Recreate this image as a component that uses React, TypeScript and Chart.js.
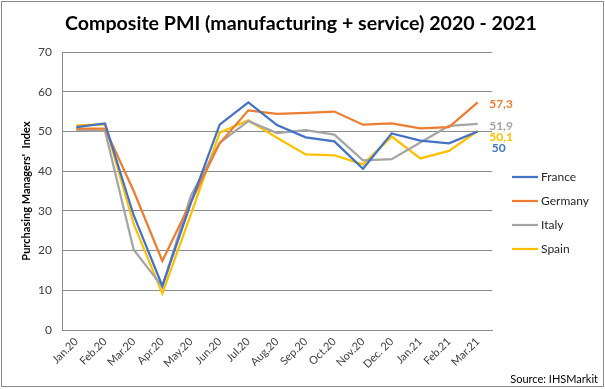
import React, { useEffect, useRef } from "react";
import { Chart, registerables } from "chart.js";

Chart.register(...registerables);

const categories = ["Jan.20", "Feb.20", "Mar.20", "Apr.20", "May.20", "Jun.20", "Jul.20", "Aug.20", "Sep.20", "Oct.20", "Nov.20", "Dec. 20", "Jan.21", "Feb.21", "Mar.21"];
const france = [51.1, 52.0, 28.9, 11.1, 32.1, 51.7, 57.3, 51.6, 48.5, 47.5, 40.6, 49.5, 47.7, 47.0, 50.0];
const germany = [50.7, 50.7, 35.0, 17.4, 32.3, 47.0, 55.3, 54.4, 54.7, 55.0, 51.7, 52.0, 50.8, 51.1, 57.3];
const italy = [50.4, 50.2, 20.2, 10.9, 33.9, 47.1, 52.6, 49.6, 50.3, 49.2, 42.7, 43.0, 47.2, 51.4, 51.9];
const spain = [51.5, 51.8, 26.7, 9.2, 29.2, 49.7, 52.8, 48.4, 44.2, 44.0, 41.7, 48.7, 43.2, 45.1, 50.1];
const seriesNames = ["France", "Germany", "Italy", "Spain"];
const endLabels = ["50", "57,3", "51,9", "50,1"];
const colors = ["#4472C4", "#ED7D31", "#A5A5A5", "#FFC000"];
const titleText = "Composite PMI (manufacturing + service) 2020 - 2021";

const FONT = "Lato, 'Liberation Sans', sans-serif";
const GRID = "#8c8c8c";

const overlay = {
  id: "overlay",
  afterDraw(chart: any) {
    const ctx = chart.ctx;
    const area = chart.chartArea;
    ctx.save();
    // title
    ctx.fillStyle = "#000";
    ctx.font = `bold 19.6px ${FONT}`;
    ctx.textAlign = "center";
    ctx.textBaseline = "alphabetic";
    ctx.fillText(titleText, 301, 30);
    // legend
    chart.data.datasets.forEach((ds: any, i: number) => {
      const y = 177 + i * 24;
      const x0 = area.right + 20;
      ctx.strokeStyle = ds.borderColor;
      ctx.lineWidth = 2.25;
      ctx.beginPath();
      ctx.moveTo(x0, y);
      ctx.lineTo(x0 + 26, y);
      ctx.stroke();
      ctx.fillStyle = "#262626";
      ctx.font = `12px ${FONT}`;
      ctx.textBaseline = "middle";
      ctx.textAlign = "left";
      ctx.fillText(ds.label, x0 + 29, y + 0.5);
    });
    // end labels
    const offsets = [
      [14, 16.5],
      [11.5, 2],
      [11.5, 2],
      [11.5, 6],
    ];
    chart.data.datasets.forEach((ds: any, i: number) => {
      const meta = chart.getDatasetMeta(i);
      const pt = meta.data[meta.data.length - 1];
      ctx.fillStyle = ds.borderColor;
      ctx.font = `bold 12px ${FONT}`;
      ctx.textBaseline = "middle";
      ctx.textAlign = "left";
      ctx.fillText(endLabels[i], pt.x + offsets[i][0], pt.y + offsets[i][1]);
    });
    // source
    ctx.fillStyle = "#000";
    ctx.font = `11px ${FONT}`;
    ctx.textAlign = "right";
    ctx.textBaseline = "middle";
    ctx.fillText("Source: IHSMarkit", 598, 379);
    // border
    ctx.strokeStyle = GRID;
    ctx.lineWidth = 1;
    ctx.strokeRect(1.5, 1.5, 602, 385);
    ctx.restore();
  },
};

export default function App() {
  const ref = useRef<HTMLCanvasElement>(null);
  useEffect(() => {
    document.body.style.margin = "0";
    const data = [france, germany, italy, spain];
    const chart = new Chart(ref.current!, {
      type: "line",
      data: {
        labels: categories,
        datasets: data.map((d, i) => ({
          label: seriesNames[i],
          data: d,
          borderColor: colors[i],
          backgroundColor: colors[i],
          borderWidth: 2.25,
          pointRadius: 0,
          tension: 0,
        })),
      },
      options: {
        responsive: false,
        animation: false,
        layout: { padding: { left: 0, right: 113, top: 52, bottom: 0 } },
        plugins: {
          legend: { display: false },
          tooltip: { enabled: false },
          title: { display: false },
        },
        scales: {
          x: {
            offset: true,
            grid: { display: false, drawTicks: false },
            border: { display: true, color: GRID, width: 1 },
            ticks: {
              autoSkip: false,
              maxRotation: 45,
              minRotation: 45,
              padding: 5,
              color: "#404040",
              font: { family: FONT, size: 11 },
            },
            afterFit: (s: any) => {
              s.height = 59;
            },
          },
          y: {
            min: 0,
            max: 70,
            ticks: { stepSize: 10, padding: 10, color: "#404040", font: { family: FONT, size: 12 } },
            grid: { color: GRID, drawTicks: false, lineWidth: 1 },
            border: { display: true, color: GRID, width: 1 },
            title: {
              display: true,
              text: "Purchasing Managers'  Index",
              color: "#000",
              font: { family: FONT, size: 11, weight: "bold", lineHeight: 1.2 },
              padding: { top: 20, bottom: 0 },
            },
            afterFit: (s: any) => {
              s.width = 62;
            },
          },
        },
      },
      plugins: [overlay],
    });
    return () => chart.destroy();
  }, []);
  return (
    <div style={{ width: 605, height: 389, background: "#fff" }}>
      <canvas ref={ref} width={605} height={389} style={{ display: "block" }} />
    </div>
  );
}
